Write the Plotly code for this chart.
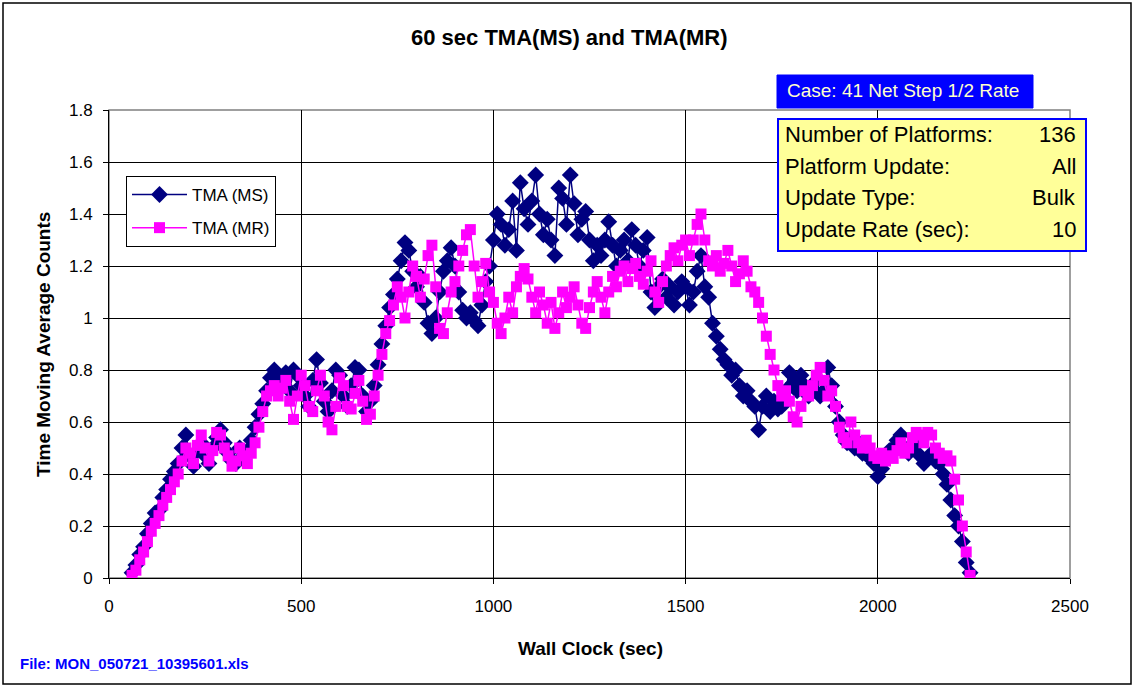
import plotly.graph_objects as go

# ---- data ----
wall_clock = list(range(60, 2250, 10))

tma_ms = [
    0.02, 0.05, 0.09, 0.12, 0.17, 0.21, 0.25, 0.26, 0.31, 0.34,
    0.38, 0.41, 0.44, 0.50, 0.55, 0.47, 0.43, 0.49, 0.52, 0.47,
    0.44, 0.50, 0.54, 0.57, 0.52, 0.48, 0.45, 0.44, 0.50, 0.47,
    0.49, 0.53, 0.58, 0.63, 0.67, 0.72, 0.77, 0.80, 0.76, 0.74,
    0.79, 0.72, 0.80, 0.78, 0.74, 0.70, 0.66, 0.76, 0.84, 0.75,
    0.68, 0.64, 0.72, 0.80, 0.78, 0.70, 0.66, 0.74, 0.81, 0.80,
    0.70, 0.64, 0.68, 0.74, 0.82, 0.90, 0.97, 1.04, 1.09, 1.15,
    1.22, 1.29, 1.26, 1.18, 1.12, 1.16, 1.06, 0.98, 0.94, 1.00,
    1.10, 1.18, 1.22, 1.27, 1.20, 1.10, 1.03, 1.00, 1.02, 0.99,
    0.97, 1.05, 1.14, 1.20, 1.30, 1.40, 1.36, 1.28, 1.34, 1.45,
    1.26, 1.52, 1.42, 1.36, 1.45, 1.55, 1.40, 1.32, 1.38, 1.30,
    1.24, 1.50, 1.46, 1.36, 1.55, 1.44, 1.32, 1.38, 1.41, 1.30,
    1.22, 1.28, 1.24, 1.30, 1.37, 1.28, 1.20, 1.26, 1.30, 1.22,
    1.34, 1.28, 1.20, 1.26, 1.31, 1.10, 1.04, 1.12, 1.15, 1.08,
    1.12, 1.05, 1.10, 1.14, 1.12, 1.05, 1.10, 1.18, 1.24, 1.12,
    1.08, 0.98, 0.93, 0.88, 0.84, 0.82, 0.78, 0.80, 0.74, 0.70,
    0.72, 0.68, 0.66, 0.57, 0.66, 0.70, 0.64, 0.68, 0.65, 0.66,
    0.72, 0.79, 0.75, 0.72, 0.78, 0.74, 0.70, 0.73, 0.76, 0.70,
    0.72, 0.81, 0.74, 0.66, 0.60, 0.55, 0.52, 0.54, 0.50, 0.52,
    0.48, 0.50, 0.46, 0.44, 0.39, 0.42, 0.46, 0.49, 0.50, 0.53,
    0.55, 0.50, 0.48, 0.50, 0.52, 0.47, 0.44, 0.46, 0.48, 0.45,
    0.44, 0.40, 0.36, 0.30, 0.24, 0.20, 0.14, 0.06, 0.02,
]

tma_mr = [
    0.01, 0.03, 0.07, 0.10, 0.14, 0.18, 0.21, 0.24, 0.28, 0.31,
    0.34, 0.37, 0.40, 0.45, 0.50, 0.48, 0.44, 0.51, 0.55, 0.50,
    0.45, 0.49, 0.56, 0.55, 0.50, 0.47, 0.43, 0.45, 0.50, 0.47,
    0.44, 0.48, 0.52, 0.58, 0.64, 0.70, 0.72, 0.74, 0.70, 0.73,
    0.76, 0.68, 0.61, 0.70, 0.78, 0.74, 0.66, 0.64, 0.72, 0.78,
    0.70, 0.60, 0.57, 0.66, 0.77, 0.74, 0.66, 0.65, 0.71, 0.76,
    0.68, 0.61, 0.63, 0.70, 0.78, 0.86, 0.94, 0.99, 1.05, 1.12,
    1.08, 1.00, 1.10, 1.20, 1.16, 1.08, 1.15, 1.24, 1.28, 1.12,
    0.96, 0.94, 1.02, 1.10, 1.14, 1.20, 1.26, 1.32, 1.34, 1.20,
    1.08, 1.14, 1.21, 1.10, 1.06, 0.98, 0.94, 1.00, 1.08, 1.02,
    1.12, 1.16, 1.19, 1.15, 1.08, 1.02, 1.10, 1.05, 0.98, 1.06,
    0.96, 1.02, 1.10, 1.04, 1.08, 1.12, 1.05, 0.98, 0.96, 1.04,
    1.10, 1.14, 1.08, 1.02, 1.10, 1.16, 1.12, 1.18, 1.20, 1.14,
    1.19, 1.21, 1.16, 1.13, 1.18, 1.22, 1.10, 1.06, 1.14, 1.20,
    1.24, 1.27, 1.22, 1.28, 1.30, 1.24, 1.30, 1.36, 1.40, 1.30,
    1.22, 1.20, 1.24, 1.18, 1.21, 1.26, 1.20, 1.14, 1.17, 1.22,
    1.18, 1.12, 1.10, 1.06, 1.00, 0.93, 0.86, 0.80, 0.74, 0.70,
    0.72, 0.68, 0.62, 0.60, 0.66, 0.72, 0.70, 0.74, 0.78, 0.81,
    0.76, 0.70, 0.72, 0.66, 0.58, 0.54, 0.52, 0.60, 0.55, 0.52,
    0.50, 0.53, 0.50, 0.47, 0.46, 0.48, 0.45, 0.47, 0.46, 0.49,
    0.52, 0.48, 0.50, 0.54, 0.56, 0.55, 0.52, 0.56, 0.55, 0.50,
    0.48, 0.46, 0.47, 0.45, 0.38, 0.30, 0.20, 0.10, 0.01,
]

assert len(wall_clock) == len(tma_ms) == len(tma_mr)

x_ticks = [0, 500, 1000, 1500, 2000, 2500]
y_ticks = [0, 0.2, 0.4, 0.6, 0.8, 1.0, 1.2, 1.4, 1.6, 1.8]

info_labels = ["Number of Platforms:", "Platform Update:", "Update Type:", "Update Rate (sec):"]
info_values = ["136", "All", "Bulk", "10"]

FONT = "Liberation Sans, Arial, sans-serif"
NAVY = "#000080"
MAGENTA = "#FF00FF"

# geometry in pixels (figure 1135x687)
W, H = 1135, 687
L, R, T, B = 109, 1070, 110, 578
pw, ph = R - L, B - T


def px(x):
    return (x - L) / pw


def py(y):
    return (B - y) / ph


fig = go.Figure()
fig.add_trace(go.Scatter(
    x=wall_clock, y=tma_ms, name="TMA (MS)", mode="lines+markers",
    legendgroup="ms",
    line=dict(color=NAVY, width=1.5),
    marker=dict(symbol="diamond", size=13, color=NAVY),
))
fig.add_trace(go.Scatter(
    x=wall_clock, y=tma_mr, name="TMA (MR)", mode="lines+markers",
    legendgroup="mr",
    line=dict(color=MAGENTA, width=1.5),
    marker=dict(symbol="square", size=11, color=MAGENTA),
))

axis_common = dict(
    showgrid=True, gridcolor="black", gridwidth=1,
    showline=True, linecolor="black", linewidth=1,
    ticks="outside", ticklen=5, tickcolor="black",
    tickfont=dict(family=FONT, size=17, color="black"),
    zeroline=False,
)

fig.update_xaxes(range=[0, 2500], tickvals=x_ticks, ticklabelstandoff=8, **axis_common)
fig.update_yaxes(range=[0, 1.8], tickvals=y_ticks, ticklabelstandoff=7, **axis_common)

shapes = [
    # outer frame
    dict(type="rect", xref="paper", yref="paper",
         x0=px(3), x1=px(1131), y0=py(684), y1=py(3),
         line=dict(color="black", width=1.5), fillcolor="rgba(0,0,0,0)", layer="below"),
    # plot-area frame (gray top/right)
    dict(type="rect", xref="paper", yref="paper", x0=0, x1=1, y0=0, y1=1,
         line=dict(color="#808080", width=1.5), fillcolor="rgba(0,0,0,0)", layer="below"),
    # blue case box
    dict(type="rect", xref="paper", yref="paper",
         x0=px(777), x1=px(1033), y0=py(108), y1=py(75),
         line=dict(color="#0000FF", width=1), fillcolor="#0000FF", layer="above"),
    # yellow info box
    dict(type="rect", xref="paper", yref="paper",
         x0=px(778), x1=px(1086), y0=py(251), y1=py(119),
         line=dict(color="#0000FF", width=2), fillcolor="#FFFF99", layer="above"),
]


def ann(text, x, y, size, color="black", xanchor="center", angle=0):
    return dict(text=text, xref="paper", yref="paper", x=px(x), y=py(y),
                xanchor=xanchor, yanchor="middle", showarrow=False, textangle=angle,
                font=dict(family=FONT, size=size, color=color))


annotations = [
    ann("<b>60 sec TMA(MS) and TMA(MR)</b>", 569, 37, 22),
    ann("<b>Wall Clock (sec)</b>", 590, 648, 19),
    ann("<b>Time Moving Average Counts</b>", 43, 345, 19, angle=-90),
    ann("<b>File: MON_050721_10395601.xls</b>", 18, 663, 15, color="#0000FF", xanchor="left"),
    ann("Case: 41 Net Step 1/2 Rate", 903, 91, 19, color="#FFFFCC"),
]

row_y = [134, 166, 197, 229]
for lab, val, yy in zip(info_labels, info_values, row_y):
    annotations.append(ann(lab, 783, yy, 22, xanchor="left"))
    annotations.append(ann(val, 1078, yy, 22, xanchor="right"))

fig.update_layout(
    width=W, height=H,
    margin=dict(l=L, r=W - R, t=T, b=H - B),
    paper_bgcolor="white", plot_bgcolor="white",
    font=dict(family=FONT, color="black"),
    showlegend=True,
    legend=dict(x=px(126), y=py(176), xanchor="left", yanchor="top",
                bgcolor="white", bordercolor="black", borderwidth=1,
                font=dict(family=FONT, size=17, color="black"),
                tracegroupgap=8, itemwidth=55),
    shapes=shapes,
    annotations=annotations,
)

fig.write_html("out.html",
               config={"displayModeBar": False},
               post_script="document.body.style.margin='0';document.body.style.padding='0';")
